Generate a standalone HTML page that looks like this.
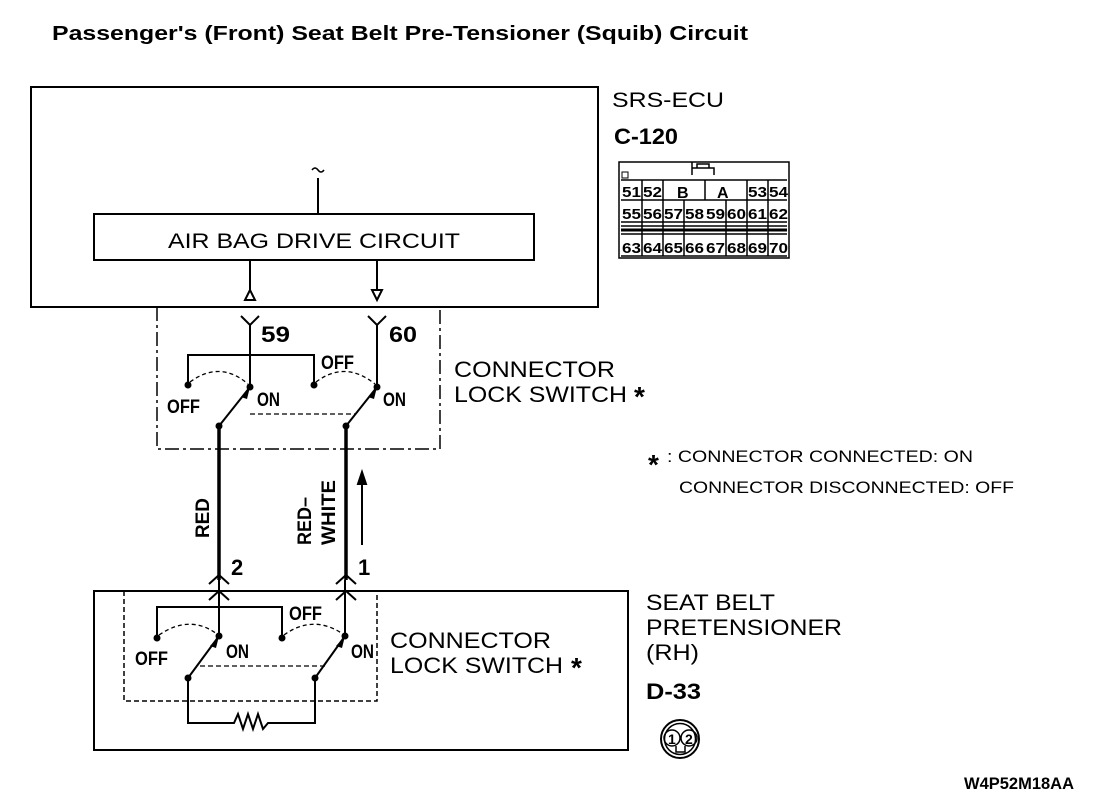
<!DOCTYPE html>
<html><head><meta charset="utf-8"><style>
body{margin:0;background:#fff;}
svg{display:block}
text{font-family:"Liberation Sans",sans-serif;fill:#000}
.c{font-weight:bold}
</style></head><body>
<svg width="1120" height="808" viewBox="0 0 1120 808" xmlns="http://www.w3.org/2000/svg">
<g fill="none" stroke="#000" stroke-width="2">
<text x="52" y="40" font-size="20" font-weight="bold" stroke="none" textLength="696" lengthAdjust="spacingAndGlyphs">Passenger's (Front) Seat Belt Pre-Tensioner (Squib) Circuit</text>
<rect x="31" y="87" width="567" height="220"/>
<rect x="94" y="214" width="440" height="46"/>
<path d="M318 178V214"/>
<path d="M312 170q3-4 6 0t6 0" stroke-width="1.5"/>
<path d="M250 260V290M377 260V290"/>
<path d="M250 290l-5 10h10z M372 290h10l-5 10z" stroke-width="2"/>
<path d="M157 307V449H440V307" stroke-dasharray="14 4 3 4" stroke-width="1.5"/>
<path d="M241 316l9 9 9-9M250 325V387M368 316l9 9 9-9M377 325V387"/>
<path d="M188 385V355H314V385"/>
<path d="M219 426L250 387M346 426L377 387"/>
<path d="M250 414H355" stroke-dasharray="5 3" stroke-width="1.3"/>
<path d="M190 382Q220 360 248 384M316 382Q345 360 375 384" stroke-dasharray="4 3" stroke-width="1.3"/>
<path d="M219 426V580M346 426V580" stroke-width="3.5"/>
<path d="M362 545V472"/>
<path d="M358 484l4-12 4 12z" fill="#000"/>
<path d="M209 584l10-9 10 9M209 600l10-9 10 9M336 584l10-9 10 9M336 600l10-9 10 9"/>
<rect x="94" y="591" width="534" height="159"/>
<path d="M124 591V701H377V591" stroke-dasharray="5 3" stroke-width="1.5"/>
<path d="M219 580V636M345 580V636"/>
<path d="M157 638V607H282V638"/>
<path d="M188 678L219 636M315 678L345 636"/>
<path d="M200 666H325" stroke-dasharray="5 3" stroke-width="1.3"/>
<path d="M159 635Q190 614 217 634M284 635Q313 614 343 634" stroke-dasharray="4 3" stroke-width="1.3"/>
<path d="M188 678V723H234l4-9 5 15 5-15 5 15 5-15 5 15 5-6H315V678"/>
<rect x="619" y="162" width="170" height="96" stroke-width="1.5"/>
<rect x="622" y="172" width="6" height="6" stroke-width="1"/>
<path d="M692 175V162M692 168H714V175M697 168V164H709V168" stroke-width="1.5"/>
<path d="M621 180H787M621 200H787M621 222H787M621 226H787M621 234H787M621 256H787" stroke-width="1.5"/>
<path d="M621 230H787" stroke-width="3"/>
<path d="M642 180V256M663 180V256M705 180V200M747 180V256M768 180V256M684 200V256M726 200V256" stroke-width="1.5"/>
<circle cx="680" cy="739" r="19"/><circle cx="680" cy="739" r="15.5" stroke-width="1.5"/>
<circle cx="672" cy="738" r="8" stroke-width="1.5"/><circle cx="689" cy="738" r="8" stroke-width="1.5"/>
<path d="M676 746V752H685V746" stroke-width="1.5"/>
</g>
<g fill="#000">
<circle cx="250" cy="387" r="3.5"/><circle cx="377" cy="387" r="3.5"/><circle cx="188" cy="385" r="3.5"/><circle cx="314" cy="385" r="3.5"/><circle cx="219" cy="426" r="3.5"/><circle cx="346" cy="426" r="3.5"/>
<circle cx="219" cy="636" r="3.5"/><circle cx="345" cy="636" r="3.5"/><circle cx="157" cy="638" r="3.5"/><circle cx="282" cy="638" r="3.5"/><circle cx="188" cy="678" r="3.5"/><circle cx="315" cy="678" r="3.5"/>
<path d="M241 397l9-10-3 12z M368 397l9-10-3 12z M210 646l9-10-3 12z M336 646l9-10-3 12z"/>
</g>
<text x="168" y="248" font-size="21" textLength="292" lengthAdjust="spacingAndGlyphs">AIR BAG DRIVE CIRCUIT</text>
<text x="612" y="107" font-size="21" textLength="112" lengthAdjust="spacingAndGlyphs">SRS-ECU</text>
<g class="c" font-size="22">
<text x="614" y="144" textLength="64" lengthAdjust="spacingAndGlyphs">C-120</text>
<text x="646" y="699" textLength="55" lengthAdjust="spacingAndGlyphs">D-33</text>
<text x="261" y="342" textLength="29" lengthAdjust="spacingAndGlyphs">59</text><text x="389" y="342" textLength="28" lengthAdjust="spacingAndGlyphs">60</text>
<text x="231" y="575">2</text><text x="358" y="575">1</text>
</g>
<g class="c" font-size="19">
<text x="321" y="369" textLength="33" lengthAdjust="spacingAndGlyphs">OFF</text>
<text x="167" y="413" textLength="33" lengthAdjust="spacingAndGlyphs">OFF</text>
<text x="257" y="406" textLength="23" lengthAdjust="spacingAndGlyphs">ON</text>
<text x="383" y="406" textLength="23" lengthAdjust="spacingAndGlyphs">ON</text>
<text x="289" y="620" textLength="33" lengthAdjust="spacingAndGlyphs">OFF</text>
<text x="135" y="665" textLength="33" lengthAdjust="spacingAndGlyphs">OFF</text>
<text x="226" y="658" textLength="23" lengthAdjust="spacingAndGlyphs">ON</text>
<text x="351" y="658" textLength="23" lengthAdjust="spacingAndGlyphs">ON</text>
</g>
<g class="c" font-size="19">
<text transform="translate(209 538) rotate(-90)" textLength="40" lengthAdjust="spacingAndGlyphs">RED</text>
<text transform="translate(311 545) rotate(-90)" textLength="48" lengthAdjust="spacingAndGlyphs">RED–</text>
<text transform="translate(335 545) rotate(-90)" textLength="65" lengthAdjust="spacingAndGlyphs">WHITE</text>
</g>
<g font-size="22">
<text x="454" y="377" textLength="161" lengthAdjust="spacingAndGlyphs">CONNECTOR</text>
<text x="454" y="402" textLength="173" lengthAdjust="spacingAndGlyphs">LOCK SWITCH</text><text x="634" y="406" font-weight="bold" font-size="28">*</text>
<text x="390" y="648" textLength="161" lengthAdjust="spacingAndGlyphs">CONNECTOR</text>
<text x="390" y="673" textLength="173" lengthAdjust="spacingAndGlyphs">LOCK SWITCH</text><text x="571" y="677" font-weight="bold" font-size="28">*</text>
<text x="646" y="610" textLength="129" lengthAdjust="spacingAndGlyphs">SEAT BELT</text>
<text x="646" y="635" textLength="196" lengthAdjust="spacingAndGlyphs">PRETENSIONER</text>
<text x="646" y="660" textLength="53" lengthAdjust="spacingAndGlyphs">(RH)</text>
</g>
<text x="648" y="474" font-size="28" font-weight="bold">*</text>
<text x="667" y="462" font-size="17" textLength="306" lengthAdjust="spacingAndGlyphs">: CONNECTOR CONNECTED: ON</text>
<text x="679" y="493" font-size="17" textLength="335" lengthAdjust="spacingAndGlyphs">CONNECTOR DISCONNECTED: OFF</text>
<g font-size="15" font-weight="bold">
<text x="622" y="197" textLength="19" lengthAdjust="spacingAndGlyphs">51</text><text x="643" y="197" textLength="19" lengthAdjust="spacingAndGlyphs">52</text><text x="677" y="198" font-size="16">B</text><text x="717" y="198" font-size="16">A</text><text x="748" y="197" textLength="19" lengthAdjust="spacingAndGlyphs">53</text><text x="769" y="197" textLength="19" lengthAdjust="spacingAndGlyphs">54</text>
<text x="622" y="219" textLength="19" lengthAdjust="spacingAndGlyphs">55</text><text x="643" y="219" textLength="19" lengthAdjust="spacingAndGlyphs">56</text><text x="664" y="219" textLength="19" lengthAdjust="spacingAndGlyphs">57</text><text x="685" y="219" textLength="19" lengthAdjust="spacingAndGlyphs">58</text><text x="706" y="219" textLength="19" lengthAdjust="spacingAndGlyphs">59</text><text x="727" y="219" textLength="19" lengthAdjust="spacingAndGlyphs">60</text><text x="748" y="219" textLength="19" lengthAdjust="spacingAndGlyphs">61</text><text x="769" y="219" textLength="19" lengthAdjust="spacingAndGlyphs">62</text>
<text x="622" y="253" textLength="19" lengthAdjust="spacingAndGlyphs">63</text><text x="643" y="253" textLength="19" lengthAdjust="spacingAndGlyphs">64</text><text x="664" y="253" textLength="19" lengthAdjust="spacingAndGlyphs">65</text><text x="685" y="253" textLength="19" lengthAdjust="spacingAndGlyphs">66</text><text x="706" y="253" textLength="19" lengthAdjust="spacingAndGlyphs">67</text><text x="727" y="253" textLength="19" lengthAdjust="spacingAndGlyphs">68</text><text x="748" y="253" textLength="19" lengthAdjust="spacingAndGlyphs">69</text><text x="769" y="253" textLength="19" lengthAdjust="spacingAndGlyphs">70</text>
<text x="668" y="744" font-size="14">1</text><text x="685" y="744" font-size="14">2</text>
</g>
<text x="964" y="789" font-size="17" font-weight="bold" textLength="110" lengthAdjust="spacingAndGlyphs">W4P52M18AA</text>
</svg>
</body></html>
